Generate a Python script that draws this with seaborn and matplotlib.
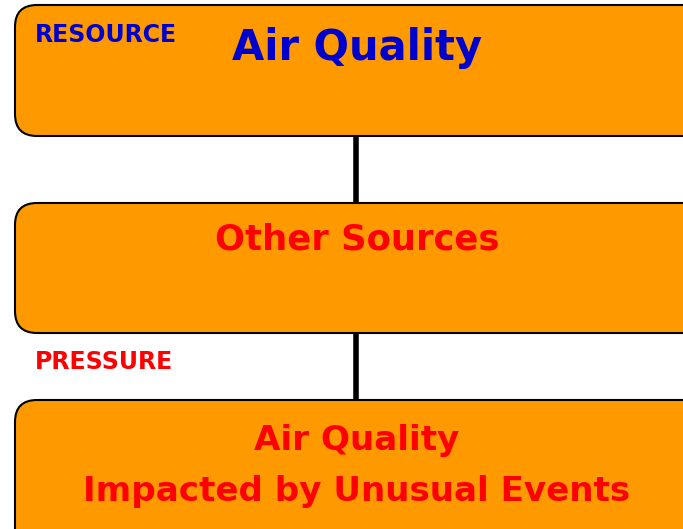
import numpy as np
import pandas as pd
import matplotlib
matplotlib.use("Agg")
import matplotlib.pyplot as plt
from matplotlib.patches import FancyBboxPatch
import seaborn as sns

###-------DIAGRAM CONTENT------###

box_titles = ["Air Quality", "Other Sources", "Air Quality\nImpacted by Unusual Events"]
box_colours = ["#0000cc", "#ff0000", "#ff0000"]
side_labels = ["RESOURCE", "PRESSURE"]
side_colours = ["#0000cc", "#ff0000"]

# box layout in pixel space (top, bottom)
box_top = [5, 203, 400]
box_bottom = [136, 333, 560]
title_y = [48, 240, 466]
title_size = [30, 25.5, 24.6]
side_y = [35, 362]

###-------FIGURE------###
sns.set_theme(style="white")
plt.rcParams["font.family"] = ["DejaVu Sans"]

fig = plt.figure(figsize=(6.83, 5.29), dpi=100)
ax = fig.add_axes([0, 0, 1, 1])

# connectors between boxes
for i in range(2):
    seg = pd.DataFrame({"x": [356, 356], "y": [box_bottom[i], box_top[i + 1]]})
    sns.lineplot(data=seg, x="x", y="y", color="black", linewidth=4, ax=ax,
                 sort=False, estimator=None, zorder=1)

for i in range(len(box_titles)):
    patch = FancyBboxPatch((15 + 22, box_top[i] + 22), 700 - 44, box_bottom[i] - box_top[i] - 44,
                           boxstyle="round,pad=22", fc="#ff9900", ec="black", lw=1.5, zorder=2)
    ax.add_patch(patch)
    ax.text(357, title_y[i], box_titles[i], color=box_colours[i], fontsize=title_size[i],
            fontweight="bold", ha="center", va="center", linespacing=1.7, zorder=3)

for i in range(len(side_labels)):
    ax.text(35, side_y[i], side_labels[i], color=side_colours[i], fontsize=17,
            fontweight="bold", ha="left", va="center", zorder=3)

ax.set_xlim(0, 683)
ax.set_ylim(529, 0)
ax.axis("off")

fig.savefig("out.png", dpi=100)
